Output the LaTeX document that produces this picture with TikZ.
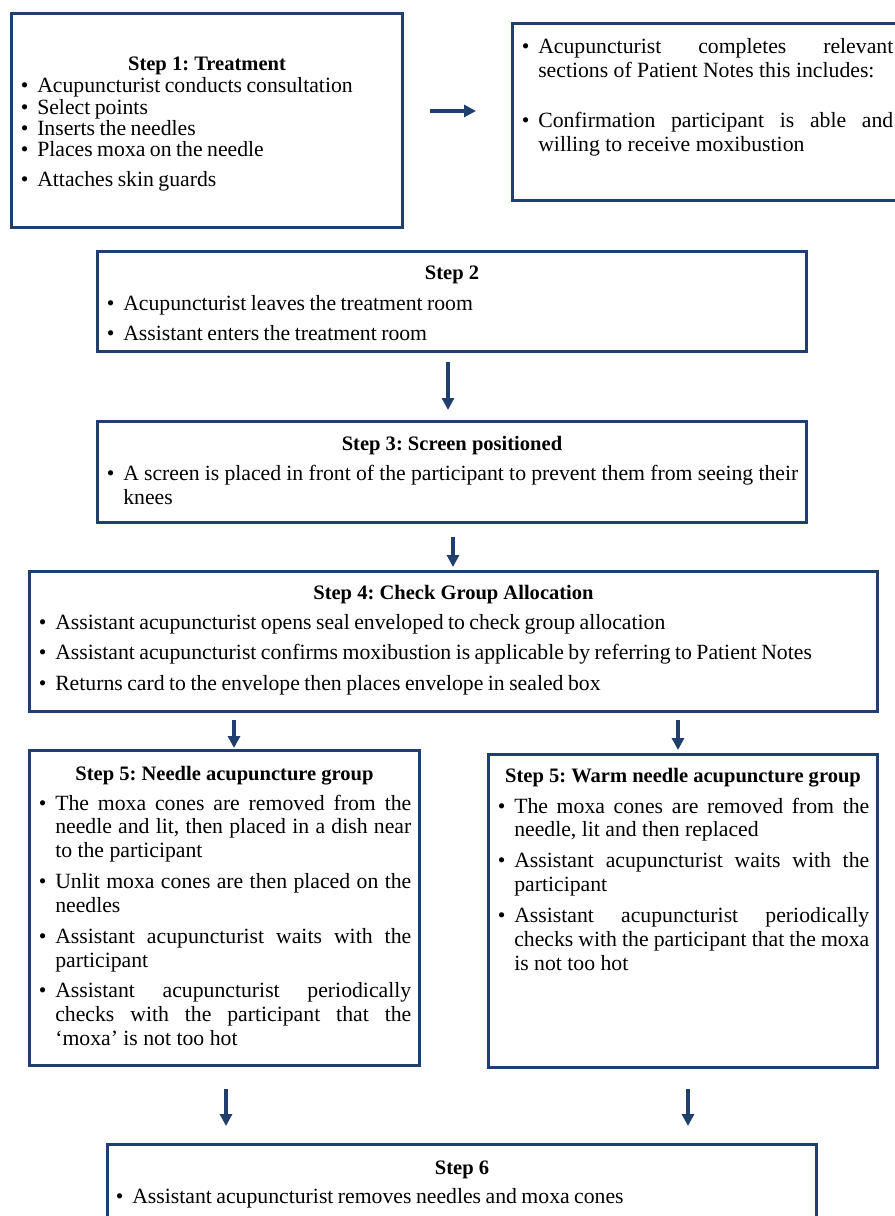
\documentclass[tikz,border=0pt]{standalone}
\usepackage{fontspec}
\setmainfont{Liberation Serif}
\usetikzlibrary{arrows.meta,fit}
\definecolor{frame}{RGB}{33,63,108}
\frenchspacing
\newlength{\bind}
\setlength{\bind}{13.5pt}
\newcommand{\bitem}[1]{\noindent\hangindent=\bind\hangafter=1\makebox[\bind][l]{\hspace{4.1pt}\makebox[0pt]{\textbullet}}#1\par}
\newcommand{\setsp}[2]{\fontsize{16.3pt}{#1}\selectfont\setlength{\parskip}{#2}\frenchspacing}
\newcommand{\PX}[1]{#1*0.75pt}
\tikzset{
  box/.style={draw=frame, line width=2.25pt, rectangle, inner sep=0pt},
  ttl/.style={font=\fontsize{15.4pt}{18pt}\selectfont\bfseries, inner sep=0pt, anchor=base},
  txt/.style={inner sep=0pt, anchor=base west, align=justify},
  rag/.style={inner sep=0pt, anchor=base west, align=left},
  arr/.style={draw=frame, line width=2.5pt, -{Triangle[length=9pt,width=9pt]}}
}
\begin{document}
\begin{tikzpicture}[x=0.75pt,y=-0.75pt]
\useasboundingbox (0,0) rectangle (895,1216);
\clip (0,0) rectangle (895,1216);
\fill[white] (0,0) rectangle (895,1216);
% boxes
\node[box, fit={(11.5,13.5) (402.5,227.5)}] (b1) {};
\node[box, fit={(512.5,24) (920,200.5)}] (bR) {};
\node[box, fit={(97.5,251.5) (806.5,351.5)}] (b2) {};
\node[box, fit={(97.5,421.5) (806.5,522.5)}] (b3) {};
\node[box, fit={(29,571.5) (877.5,711)}] (b4) {};
\node[box, fit={(29.5,750.5) (419.5,1065)}] (b5l) {};
\node[box, fit={(488.5,754) (877.5,1067.5)}] (b5r) {};
\node[box, fit={(107.5,1144.8) (816.5,1240)}] (b6) {};
% titles
\node[ttl] (t1) at (207,71) {Step 1: Treatment};
\node[ttl] (t2) at (452,279) {Step 2};
\node[ttl] (t3) at (452,450.5) {Step 3: Screen positioned};
\node[ttl] (t4) at (453.5,599) {Step 4: Check Group Allocation};
\node[ttl] (t5l) at (224.5,780) {Step 5: Needle acupuncture group};
\node[ttl] (t5r) at (683,782) {Step 5: Warm needle acupuncture group};
\node[ttl] (t6) at (462,1174) {Step 6};
% texts
\node[rag, text width=\PX{370}] (x1) at (19,93) {\setsp{16pt}{0pt}%
\bitem{Acupuncturist conducts consultation}%
\bitem{Select points}%
\bitem{Inserts the needles}%
\bitem{Places moxa on the needle}\vspace{5.8pt}%
\bitem{Attaches skin guards}};
\node[txt, text width=\PX{373}] (xR) at (520,54) {\setsp{18pt}{19.5pt}%
\bitem{Acupuncturist completes relevant\linebreak sections of Patient Notes this includes:}%
\bitem{Confirmation participant is able and\linebreak willing to receive moxibustion}};
\node[rag, text width=\PX{700}] (x2) at (105,310) {\setsp{17.8pt}{4.7pt}%
\bitem{Acupuncturist leaves the treatment room}%
\bitem{Assistant enters the treatment room}};
\node[txt, text width=\PX{693}] (x3) at (105,480.5) {\setsp{18pt}{0pt}%
\bitem{A screen is placed in front of the participant to prevent them from seeing their\linebreak knees}};
\node[rag, text width=\PX{830}] (x4) at (37,629) {\setsp{17.8pt}{5.1pt}%
\bitem{Assistant acupuncturist opens seal enveloped to check group allocation}%
\bitem{Assistant acupuncturist confirms moxibustion is applicable by referring to Patient Notes}%
\bitem{Returns card to the envelope then places envelope in sealed box}};
\node[txt, text width=\PX{374}] (x5l) at (37,810) {\setsp{17.9pt}{5.2pt}%
\bitem{The moxa cones are removed from the\linebreak needle and lit, then placed in a dish near\linebreak to the participant}%
\bitem{Unlit moxa cones are then placed on the\linebreak needles}%
\bitem{Assistant acupuncturist waits with the\linebreak participant}%
\bitem{Assistant acupuncturist periodically\linebreak checks with the participant that the\linebreak ‘moxa’ is not too hot}};
\node[txt, text width=\PX{373}] (x5r) at (496,813) {\setsp{17.9pt}{5.2pt}%
\bitem{The moxa cones are removed from the\linebreak needle, lit and then replaced}%
\bitem{Assistant acupuncturist waits with the\linebreak participant}%
\bitem{Assistant acupuncturist periodically\linebreak checks with the participant that the moxa\linebreak is not too hot}};
\node[rag, text width=\PX{690}] (x6) at (114,1203) {\setsp{17.8pt}{5.1pt}%
\bitem{Assistant acupuncturist removes needles and moxa cones}};
% arrows
\coordinate (a1s) at (430,111); \coordinate (a1e) at (476,111);
\coordinate (a2s) at (448,362); \coordinate (a2e) at (448,410);
\coordinate (a3s) at (453,537); \coordinate (a3e) at (453,567);
\coordinate (a4ls) at (234,720); \coordinate (a4le) at (234,748);
\coordinate (a4rs) at (678,720); \coordinate (a4re) at (678,750);
\coordinate (a5ls) at (226,1089); \coordinate (a5le) at (226,1126);
\coordinate (a5rs) at (688,1089); \coordinate (a5re) at (688,1126);
\draw[arr] (a1s) -- (a1e);
\draw[arr] (a2s) -- (a2e);
\draw[arr] (a3s) -- (a3e);
\draw[arr] (a4ls) -- (a4le);
\draw[arr] (a4rs) -- (a4re);
\draw[arr] (a5ls) -- (a5le);
\draw[arr] (a5rs) -- (a5re);
\end{tikzpicture}
\end{document}
